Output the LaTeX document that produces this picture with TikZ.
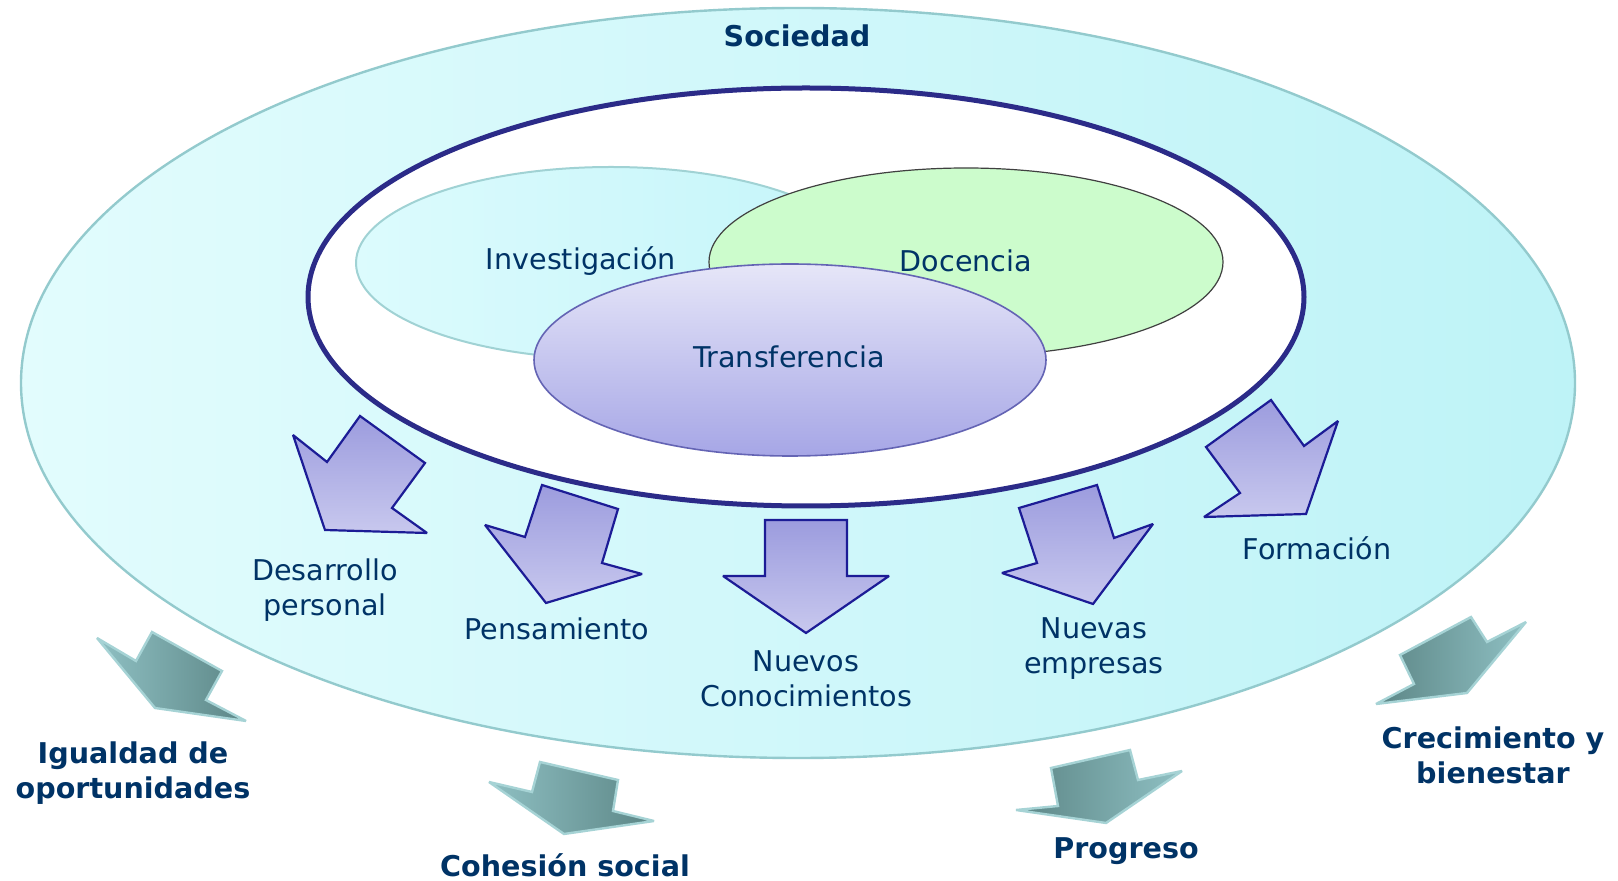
\documentclass[tikz,border=0pt]{standalone}
\usepackage{fontspec}
\setmainfont{DejaVu Sans}
\usepackage{tikz}
\definecolor{textblau}{RGB}{0,51,102}
\definecolor{socL}{HTML}{E2FCFD}
\definecolor{socR}{HTML}{BEF3F7}
\definecolor{socRand}{HTML}{93CACD}
\definecolor{invL}{HTML}{DCFBFD}
\definecolor{invR}{HTML}{C4F5F9}
\definecolor{invRand}{HTML}{A0D2D4}
\definecolor{docFill}{HTML}{CCFCCC}
\definecolor{docRand}{HTML}{404040}
\definecolor{transT}{HTML}{E6E6F8}
\definecolor{transB}{HTML}{A6A6E6}
\definecolor{transRand}{HTML}{6464B4}
\definecolor{innenRand}{HTML}{2B2B88}
\definecolor{pfeilDunkel}{HTML}{9C9CDE}
\definecolor{pfeilHell}{HTML}{C8C8EE}
\definecolor{pfeilRand}{HTML}{1C1C96}
\definecolor{tealHell}{HTML}{8FC0C3}
\definecolor{tealDunkel}{HTML}{5C8686}
\definecolor{tealRand}{HTML}{A6D3D5}

\begin{document}
\begin{tikzpicture}[x=0.5pt, y=-0.5pt,
		font=\fontsize{14.3}{17.5}\selectfont,
		lbl/.style={text=textblau, align=center, inner sep=0pt},
		lblbold/.style={lbl, font=\fontsize{14.3}{17.5}\selectfont\bfseries},
		blockarrow/.style={draw=pfeilRand, line width=1.1pt, miter limit=3, top color=pfeilDunkel, bottom color=pfeilHell},
		tealarrow/.style={draw=tealRand, line width=1.2pt, miter limit=3},
		tealL/.style={tealarrow, left color=tealHell, right color=tealDunkel},
		tealR/.style={tealarrow, left color=tealDunkel, right color=tealHell}]
		\useasboundingbox (0,0) rectangle (1618,881);
		% Elipse exterior
		\draw[socRand, line width=1.2pt, left color=socL, right color=socR] (798,383) ellipse [x radius=777, y radius=375];
		% Universidad
		\draw[innenRand, line width=2.5pt, fill=white] (806,297) ellipse [x radius=498, y radius=209];
		\draw[invRand, line width=1pt, left color=invL, right color=invR] (611,263) ellipse [x radius=255, y radius=96];
		\draw[docRand, line width=0.6pt, fill=docFill] (966,262) ellipse [x radius=257, y radius=94];
		\draw[transRand, line width=0.8pt, top color=transT, bottom color=transB] (790,360) ellipse [x radius=256, y radius=96];
		% Flechas interiores
		\draw[blockarrow] (293,435) -- (327,462) -- (360,416) -- (425,463) -- (392,508) -- (427,533) -- (325,530) -- cycle;
		\draw[blockarrow] (485,525) -- (525,537) -- (542,485) -- (618,509) -- (602,563) -- (642,574) -- (546,603) -- cycle;
		\draw[blockarrow] (765,520) -- (847,520) -- (847,576) -- (889,576) -- (806,633) -- (723,576) -- (765,576) -- cycle;
		\draw[blockarrow] (1019,508) -- (1097,485) -- (1114,538) -- (1153,524) -- (1093,604) -- (1002,573) -- (1037,563) -- cycle;
		\draw[blockarrow] (1206,447) -- (1271,400) -- (1304,446) -- (1338,421) -- (1306,514) -- (1204,517) -- (1240,493) -- cycle;
		% Flechas exteriores
		\draw[tealL] (97,638) -- (136,661) -- (152,632) -- (222,671) -- (206,700) -- (246,721) -- (155,708) -- cycle;
		\draw[tealL] (489,782) -- (532,792) -- (540,762) -- (618,780) -- (613,811) -- (654,821) -- (564,834) -- cycle;
		\draw[tealR] (1051,768) -- (1130,750) -- (1138,780) -- (1182,771) -- (1106,823) -- (1016,810) -- (1058,806) -- cycle;
		\draw[tealR] (1400,655) -- (1471,617) -- (1487,642) -- (1526,622) -- (1467,693) -- (1376,704) -- (1414,684) -- cycle;
		% Textos
		\node[lblbold] (soc) at (797,36) {Sociedad};
		\node[lbl] (inv) at (581,261) {Investigación};
		\node[lbl] (doc) at (966,261) {Docencia};
		\node[lbl] (trans) at (789,357) {Transferencia};
		\node[lbl] (desarrollo) at (325,590) {Desarrollo\\personal};
		\node[lbl] (pens) at (557,629) {Pensamiento};
		\node[lbl] (nuevos) at (806,679) {Nuevos\\Conocimientos};
		\node[lbl] (empresas) at (1094,649) {Nuevas\\empresas};
		\node[lbl] (form) at (1317,548) {Formación};
		\node[lblbold] (igual) at (133,773) {Igualdad de\\oportunidades};
		\node[lblbold] (cohes) at (565,865) {Cohesión social};
		\node[lblbold] (prog) at (1126,851) {Progreso};
		\node[lblbold] (crec) at (1493,755) {Crecimiento y\\bienestar};
	\end{tikzpicture}
\end{document}
